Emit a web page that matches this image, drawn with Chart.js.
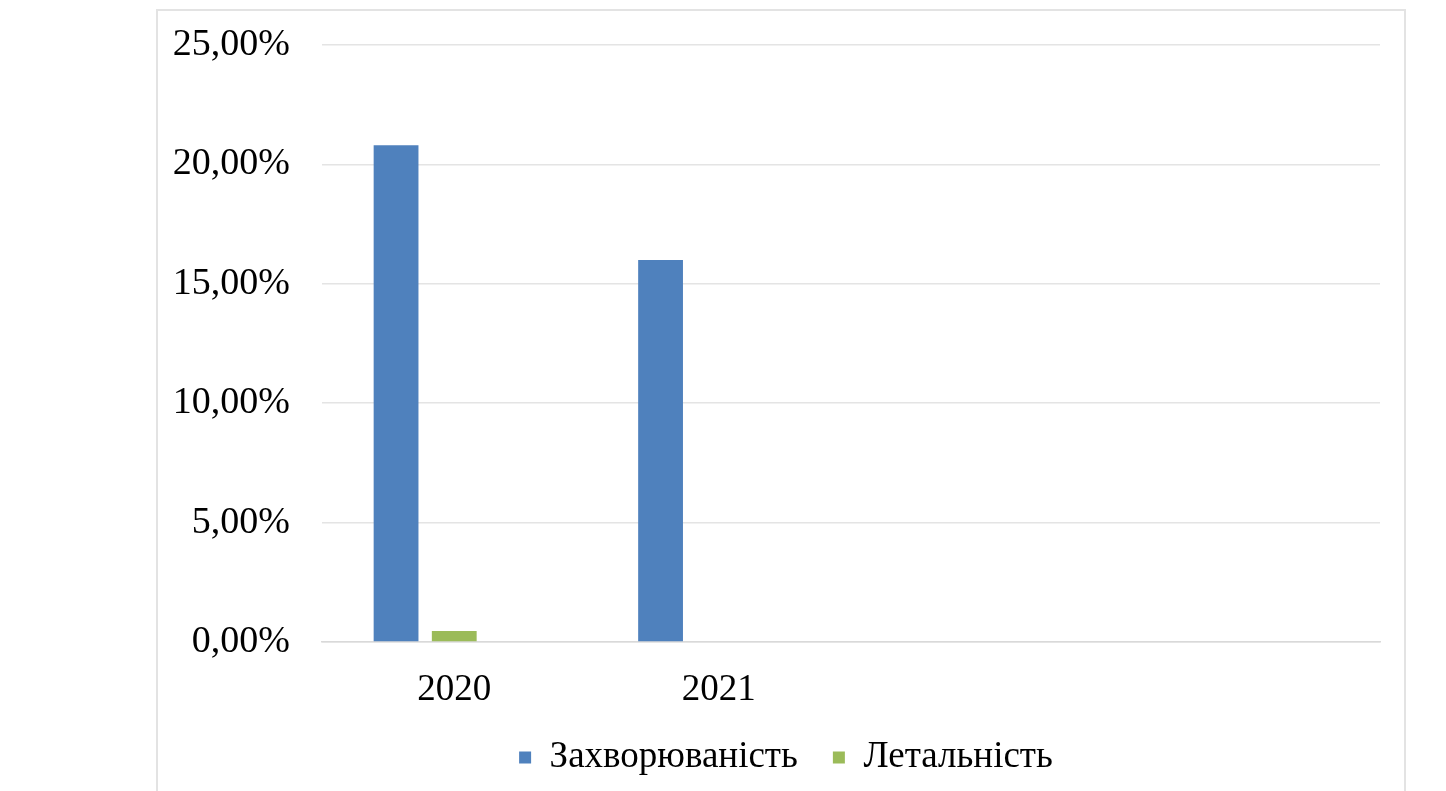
<!DOCTYPE html>
<html>
<head>
<meta charset="utf-8">
<script src="https://cdn.jsdelivr.net/npm/chart.js@4"></script>
<style>
    html, body { margin: 0; padding: 0; background: #fff; }
    #wrap { width: 1446px; height: 791px; }
</style>
</head>
<body>
<div id="wrap"><canvas id="chart"></canvas></div>
<script>
// data
const years = ['2020', '2021', '', ''];
const morbidity = [20.8, 16.0, null, null];   // Захворюваність, %
const lethality = [0.46, 0, null, null];      // Летальність, %
const spare = [null, null, null, null];        // empty third series slot
const yTicks = [0, 5, 10, 15, 20, 25];

const serif = "'Liberation Serif', 'DejaVu Serif', serif";

const framePlugin = {
    id: 'frame',
    afterLayout: (chart) => {
        // legend sits centred on the outer frame, not the canvas
        chart.legend.left += 11;
        chart.legend.right += 11;
    },
    beforeDraw: (chart) => {
        const {ctx} = chart;
        ctx.save();
        ctx.fillStyle = '#fff';
        ctx.fillRect(0, 0, chart.width, chart.height);
        ctx.strokeStyle = '#e3e3e3';
        ctx.lineWidth = 2;
        ctx.strokeRect(157, 10, 1248, 800);
        ctx.restore();
    }
};

new Chart(document.getElementById('chart'), {
    type: 'bar',
    data: {
        labels: years,
        datasets: [
            {label: 'Захворюваність', data: morbidity, backgroundColor: '#4f81bd'},
            {label: 'Летальність', data: lethality, backgroundColor: '#9bbb59'},
            {label: '', data: spare, backgroundColor: '#c0504d'}
        ]
    },
    options: {
        responsive: true,
        maintainAspectRatio: false,
        animation: false,
        barPercentage: 0.77,
        categoryPercentage: 0.66,
        layout: {padding: {left: 170, right: 66, top: 45, bottom: 5}},
        plugins: {
            tooltip: {enabled: false},
            legend: {
                position: 'bottom',
                labels: {
                    filter: (item) => item.text !== '',
                    boxWidth: 12,
                    boxHeight: 12,
                    padding: 35,
                    color: '#000',
                    font: {family: serif, size: 37}
                }
            }
        },
        scales: {
            x: {
                afterFit: (scale) => { scale.height = 62; },
                grid: {display: false},
                border: {color: '#d9d9d9', width: 1.5},
                ticks: {color: '#000', padding: 18, font: {family: serif, size: 37}}
            },
            y: {
                min: 0,
                max: 25,
                afterFit: (scale) => {
                    scale.width = 152;
                    scale.paddingTop = 0;
                    scale.paddingBottom = 0;
                },
                afterBuildTicks: (scale) => { scale.ticks = yTicks.map(v => ({value: v})); },
                grid: {color: '#e4e4e4', lineWidth: 1.5, drawTicks: false},
                border: {display: false},
                ticks: {
                    color: '#000',
                    padding: 32,
                    font: {family: serif, size: 38},
                    callback: (v) => v.toFixed(2).replace('.', ',') + '%'
                }
            }
        }
    },
    plugins: [framePlugin]
});
</script>
</body>
</html>
